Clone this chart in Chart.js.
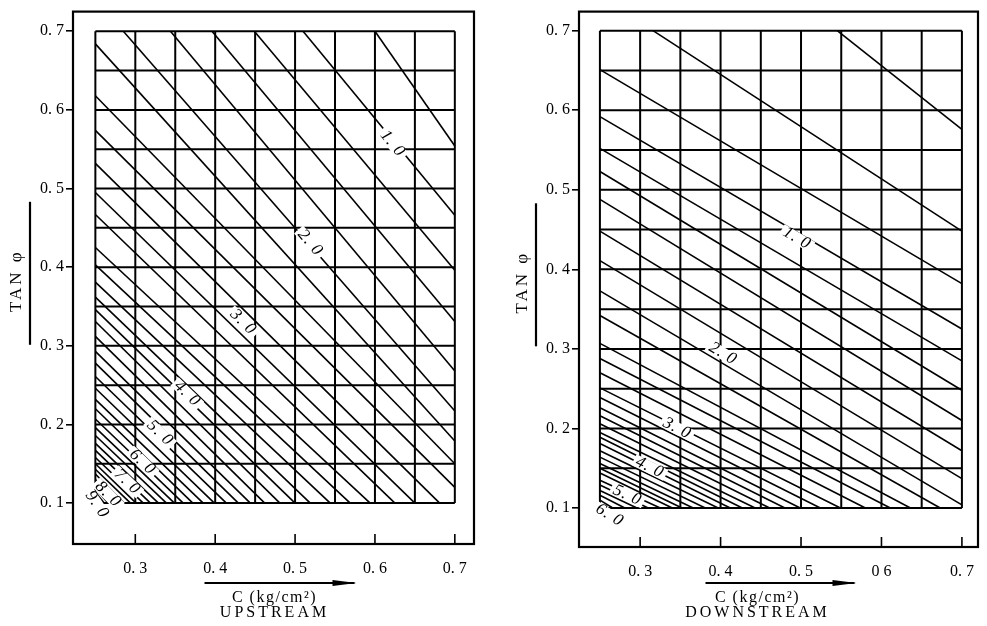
<!DOCTYPE html>
<html>
<head>
<meta charset="utf-8">
<script src="https://cdn.jsdelivr.net/npm/chart.js@4.4.0/dist/chart.umd.min.js"></script>
<style>
  body { margin: 0; background: #fff; width: 987px; height: 626px; position: relative; overflow: hidden; }
  canvas { position: absolute; top: 0; }
  #up { left: 0; }
  #down { left: 490px; }
</style>
</head>
<body>
<canvas id="up" width="490" height="626"></canvas>
<canvas id="down" width="497" height="626"></canvas>
<script>
// axis ticks and grid of the data rectangle
const yTicks = [0.1, 0.2, 0.3, 0.4, 0.5, 0.6, 0.7];
const yTickLabels = ['0. 1', '0. 2', '0. 3', '0. 4', '0. 5', '0. 6', '0. 7'];
const xTicks = [0.3, 0.4, 0.5, 0.6, 0.7];
const upXTickLabels = ['0. 3', '0. 4', '0. 5', '0. 6', '0. 7'];
const downXTickLabels = ['0. 3', '0. 4', '0. 5', '0 6', '0. 7'];
const gridC = [0.25, 0.3, 0.35, 0.4, 0.45, 0.5, 0.55, 0.6, 0.65, 0.7];
const gridT = [0.1, 0.15, 0.2, 0.25, 0.3, 0.35, 0.4, 0.45, 0.5, 0.55, 0.6, 0.65, 0.7];

// contour lines, [C start, tan start, C end, tan end]
const upLines = [
  [0.600, 0.700, 0.700, 0.554],
  [0.510, 0.700, 0.700, 0.466],
  [0.449, 0.700, 0.700, 0.396],
  [0.396, 0.700, 0.700, 0.331],
  [0.344, 0.700, 0.700, 0.268],
  [0.285, 0.700, 0.700, 0.217],
  [0.250, 0.684, 0.700, 0.179],
  [0.250, 0.618, 0.700, 0.150],
  [0.250, 0.574, 0.700, 0.120],
  [0.250, 0.532, 0.681, 0.100],
  [0.250, 0.495, 0.650, 0.100],
  [0.250, 0.467, 0.625, 0.100],
  [0.250, 0.425, 0.594, 0.100],
  [0.250, 0.403, 0.569, 0.100],
  [0.250, 0.381, 0.544, 0.100],
  [0.250, 0.362, 0.519, 0.100],
  [0.250, 0.346, 0.500, 0.100],
  [0.250, 0.331, 0.481, 0.100],
  [0.250, 0.312, 0.462, 0.100],
  [0.250, 0.293, 0.444, 0.100],
  [0.250, 0.278, 0.429, 0.100],
  [0.250, 0.261, 0.414, 0.100],
  [0.250, 0.246, 0.399, 0.100],
  [0.250, 0.232, 0.385, 0.100],
  [0.250, 0.220, 0.372, 0.100],
  [0.250, 0.207, 0.360, 0.100],
  [0.250, 0.196, 0.349, 0.100],
  [0.250, 0.186, 0.339, 0.100],
  [0.250, 0.176, 0.329, 0.100],
  [0.250, 0.167, 0.319, 0.100],
  [0.250, 0.158, 0.310, 0.100],
  [0.250, 0.150, 0.301, 0.100],
  [0.250, 0.143, 0.294, 0.100],
  [0.250, 0.137, 0.286, 0.100],
  [0.250, 0.130, 0.279, 0.100],
  [0.250, 0.124, 0.272, 0.100],
  [0.250, 0.119, 0.266, 0.100],
  [0.250, 0.114, 0.261, 0.100],
  [0.250, 0.110, 0.257, 0.100],
  [0.250, 0.106, 0.254, 0.100]
];
const upLabelText = ['1. 0', '2. 0', '3. 0', '4. 0', '5. 0', '6. 0', '7. 0', '8. 0', '9. 0'];
const upLabelC = [0.622, 0.519, 0.435, 0.365, 0.331, 0.309, 0.290, 0.266, 0.252];
const upLabelT = [0.557, 0.431, 0.330, 0.239, 0.189, 0.152, 0.127, 0.111, 0.098];

const downLines = [
  [0.545, 0.700, 0.700, 0.576],
  [0.316, 0.700, 0.700, 0.448],
  [0.250, 0.651, 0.700, 0.382],
  [0.250, 0.592, 0.700, 0.325],
  [0.250, 0.552, 0.700, 0.285],
  [0.250, 0.523, 0.700, 0.248],
  [0.250, 0.488, 0.700, 0.210],
  [0.250, 0.448, 0.700, 0.172],
  [0.250, 0.411, 0.700, 0.137],
  [0.250, 0.373, 0.700, 0.104],
  [0.250, 0.342, 0.673, 0.100],
  [0.250, 0.307, 0.636, 0.100],
  [0.250, 0.288, 0.611, 0.100],
  [0.250, 0.270, 0.580, 0.100],
  [0.250, 0.251, 0.549, 0.100],
  [0.250, 0.239, 0.524, 0.100],
  [0.250, 0.226, 0.499, 0.100],
  [0.250, 0.216, 0.480, 0.100],
  [0.250, 0.206, 0.461, 0.100],
  [0.250, 0.195, 0.443, 0.100],
  [0.250, 0.189, 0.427, 0.100],
  [0.250, 0.181, 0.412, 0.100],
  [0.250, 0.172, 0.397, 0.100],
  [0.250, 0.164, 0.381, 0.100],
  [0.250, 0.156, 0.366, 0.100],
  [0.250, 0.150, 0.352, 0.100],
  [0.250, 0.144, 0.340, 0.100],
  [0.250, 0.135, 0.325, 0.100],
  [0.250, 0.129, 0.310, 0.100],
  [0.250, 0.122, 0.296, 0.100],
  [0.250, 0.116, 0.281, 0.100],
  [0.250, 0.110, 0.266, 0.100]
];
const downLabelText = ['1. 0', '2. 0', '3. 0', '4. 0', '5. 0', '6. 0'];
const downLabelC = [0.495, 0.403, 0.346, 0.312, 0.284, 0.262];
const downLabelT = [0.439, 0.294, 0.200, 0.151, 0.116, 0.091];

const serif = '"Liberation Serif", "DejaVu Serif", serif';

function seg(x1, y1, x2, y2, w) {
  return {
    data: [{x: x1, y: y1}, {x: x2, y: y2}],
    showLine: true, pointRadius: 0, borderColor: '#000',
    borderWidth: w, fill: false
  };
}

// frame, inner x ticks, axis titles and their rules
const framePlugin = {
  id: 'frame',
  afterDraw(chart, args, opts) {
    const {ctx, chartArea: a, scales} = chart;
    ctx.save();
    ctx.strokeStyle = '#000';
    ctx.fillStyle = '#000';
    ctx.lineWidth = 2.2;
    ctx.strokeRect(a.left, a.top, a.right - a.left, a.bottom - a.top);
    ctx.lineWidth = 1.6;
    xTicks.forEach(v => {
      const x = scales.x.getPixelForValue(v);
      ctx.beginPath(); ctx.moveTo(x, a.bottom); ctx.lineTo(x, a.bottom - 10); ctx.stroke();
    });
    const cy = (a.top + a.bottom) / 2;
    const tx = a.left - 56;
    // y title, rotated
    ctx.save();
    ctx.translate(tx, cy + 3);
    ctx.rotate(-Math.PI / 2);
    ctx.textAlign = 'center';
    ctx.textBaseline = 'middle';
    ctx.letterSpacing = '3px';
    ctx.font = '17px ' + serif;
    ctx.fillText('TAN φ', 0, 0);
    ctx.restore();
    ctx.lineWidth = 2.2;
    ctx.beginPath(); ctx.moveTo(tx + 13, cy - 76); ctx.lineTo(tx + 13, cy + 67); ctx.stroke();
    // x title, two lines
    const cx = (a.left + a.right) / 2 + opts.dx;
    ctx.textAlign = 'center';
    ctx.textBaseline = 'middle';
    ctx.font = '16px ' + serif;
    ctx.letterSpacing = '1.5px';
    ctx.fillText('C (kg/cm²)', cx, 598);
    ctx.letterSpacing = '3px';
    ctx.fillText(opts.title, cx, 613);
    ctx.letterSpacing = '0px';
    ctx.beginPath(); ctx.moveTo(cx + opts.r0, 583); ctx.lineTo(cx + opts.r1, 583); ctx.stroke();
    ctx.beginPath();
    ctx.moveTo(cx + opts.r1 + 2, 583); ctx.lineTo(cx + opts.r1 - 22, 580); ctx.lineTo(cx + opts.r1 - 22, 586);
    ctx.closePath(); ctx.fill();
    ctx.restore();
  }
};

// value labels sitting on the contour lines
const labelPlugin = {
  id: 'contourLabels',
  afterDatasetsDraw(chart, args, opts) {
    const {ctx, scales: {x, y}} = chart;
    ctx.save();
    ctx.font = 'italic 17px ' + serif;
    ctx.letterSpacing = '1px';
    ctx.textAlign = 'center';
    ctx.textBaseline = 'middle';
    opts.text.forEach((t, i) => {
      const px = x.getPixelForValue(opts.c[i]);
      const py = y.getPixelForValue(opts.t[i]);
      // angle of the nearest contour
      let best = 0, bd = 1e9;
      opts.lines.forEach(l => {
        const x1 = x.getPixelForValue(l[0]), y1 = y.getPixelForValue(l[1]);
        const x2 = x.getPixelForValue(l[2]), y2 = y.getPixelForValue(l[3]);
        const dx = x2 - x1, dy = y2 - y1;
        const d = Math.abs(dy * (px - x1) - dx * (py - y1)) / Math.hypot(dx, dy);
        if (d < bd) { bd = d; best = Math.atan2(dy, dx); }
      });
      ctx.translate(px, py);
      ctx.rotate(best);
      const w = ctx.measureText(t).width;
      ctx.fillStyle = '#fff';
      ctx.fillRect(-w / 2 - 3, -6, w + 6, 12);
      ctx.fillStyle = '#000';
      ctx.fillText(t, 0, 0);
      ctx.setTransform(1, 0, 0, 1, 0, 0);
    });
    ctx.restore();
  }
};

function makeChart(id, lines, xLabels, box, lab, rule) {
  const datasets = [];
  gridC.forEach(c => datasets.push(seg(c, 0.1, c, 0.7, 2)));
  gridT.forEach(t => datasets.push(seg(0.25, t, 0.7, t, 2)));
  lines.forEach(l => datasets.push(seg(l[0], l[1], l[2], l[3], 1.6)));
  return new Chart(document.getElementById(id), {
    type: 'scatter',
    data: { datasets },
    plugins: [framePlugin, labelPlugin],
    options: {
      responsive: false,
      animation: false,
      layout: { padding: { top: box.top, right: box.right, left: 0, bottom: 0 } },
      plugins: {
        legend: { display: false },
        tooltip: { enabled: false },
        frame: rule,
        contourLabels: lab
      },
      scales: {
        x: {
          type: 'linear', min: box.xmin, max: box.xmax,
          afterBuildTicks: s => { s.ticks = xTicks.map(v => ({value: v})); },
          afterFit: s => { s.height = box.xh; },
          grid: { display: false },
          border: { display: false },
          ticks: {
            color: '#000', padding: 7, maxRotation: 0, autoSkip: false,
            font: { family: serif, size: 16 },
            callback: (v, i) => xLabels[i]
          }
        },
        y: {
          type: 'linear', min: box.ymin, max: box.ymax,
          afterBuildTicks: s => { s.ticks = yTicks.map(v => ({value: v})); },
          afterFit: s => { s.width = box.yw; },
          grid: { display: true, drawOnChartArea: false, drawTicks: true, tickLength: 7, color: '#000', lineWidth: 1.6 },
          border: { display: false },
          ticks: {
            color: '#000', padding: 2, autoSkip: false,
            font: { family: serif, size: 16 },
            callback: (v, i) => yTickLabels[i]
          }
        }
      }
    }
  });
}

makeChart('up', upLines, upXTickLabels,
  { top: 7, right: 16, yw: 73, xh: 82, xmin: 0.222, xmax: 0.724, ymin: 0.048, ymax: 0.725 },
  { text: upLabelText, c: upLabelC, t: upLabelT, lines: upLines },
  { title: 'UPSTREAM', dx: 1, r0: -70, r1: 80 });

makeChart('down', downLines, downXTickLabels,
  { top: 10, right: 9, yw: 89, xh: 79, xmin: 0.224, xmax: 0.720, ymin: 0.051, ymax: 0.724 },
  { text: downLabelText, c: downLabelC, t: downLabelT, lines: downLines },
  { title: 'DOWNSTREAM', dx: -21, r0: -52, r1: 97 });
</script>
</body>
</html>
